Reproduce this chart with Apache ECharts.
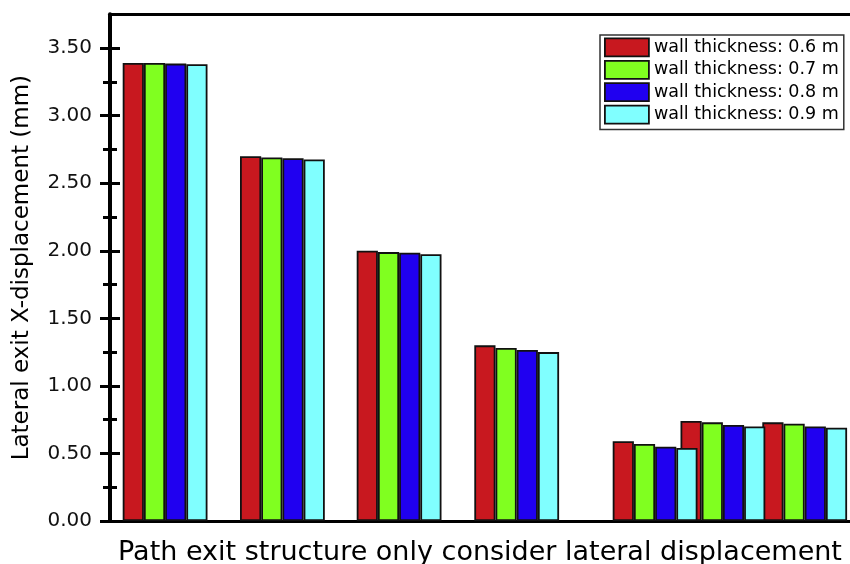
<!DOCTYPE html>
<html><head><meta charset="utf-8">
<script src="https://cdn.jsdelivr.net/npm/echarts@6/dist/echarts.min.js"></script>
<style>html,body{margin:0;padding:0;background:#fff}#c{width:850px;height:564px}</style>
</head><body><div id="c"></div>
<script>
// ---- data ----
const cases = ['Case 1', 'Case 2', 'Case 3', 'Case 4', 'Case 5', 'Case 6', 'Case 7'];
const seriesNames = ['wall thickness: 0.6 m', 'wall thickness: 0.7 m', 'wall thickness: 0.8 m', 'wall thickness: 0.9 m'];
const t06 = [3.39, 2.70, 2.00, 1.30, 0.59, 0.74, 0.73];
const t07 = [3.39, 2.69, 1.99, 1.28, 0.57, 0.73, 0.72];
const t08 = [3.385, 2.685, 1.985, 1.265, 0.55, 0.71, 0.70];
const t09 = [3.38, 2.675, 1.975, 1.25, 0.54, 0.70, 0.69];
const yTicks = [0, 0.5, 1.0, 1.5, 2.0, 2.5, 3.0, 3.5];
const yMinorTicks = [0.25, 0.75, 1.25, 1.75, 2.25, 2.75, 3.25];
const xTitle = 'Path exit structure only consider lateral displacement';
const yTitle = 'Lateral exit X-displacement (mm)';

// ---- layout (axis units along the hidden x axis) ----
const groupStart = [12.7, 130, 246.7, 364.3, 502.7, 570.5, 652.3];
const slot = 21.2;
const plotLeft = 110;
const plotWidth = 740;
const majorTickLen = 10;
const minorTickLen = 7;
const colors = ['#c8181f', '#80ff20', '#2000f0', '#80ffff'];
const FONT = 'DejaVu Sans';

const values = [t06, t07, t08, t09];
const series = values.map((vals, s) => ({
  name: seriesNames[s],
  type: 'bar',
  barWidth: slot,
  barGap: '-100%',
  xAxisIndex: 0,
  yAxisIndex: 0,
  itemStyle: { color: colors[s], borderColor: '#111', borderWidth: 1.8 },
  data: vals.map((v, g) => [groupStart[g] + s * slot + slot / 2, v])
}));

// inward-pointing ticks on the left axis, as short line segments in axis units
const tickSegs = yTicks.map(v => [[0, v], [majorTickLen, v]])
  .concat(yMinorTicks.map(v => [[0, v], [minorTickLen, v]]));
series.push({
  name: 'inner-ticks',
  type: 'lines',
  coordinateSystem: 'cartesian2d',
  xAxisIndex: 0,
  yAxisIndex: 0,
  silent: true,
  z: 6,
  lineStyle: { color: '#000', width: 3, opacity: 1, curveness: 0 },
  data: tickSegs.map(c => ({ coords: c }))
});

function yAx(extra) {
  return Object.assign({
    type: 'value', min: 0, max: 3.75, interval: 0.25, position: 'left', gridIndex: 0,
    axisLine: { show: false, onZero: false },
    axisLabel: { show: false },
    splitLine: { show: false },
    axisTick: { show: false }
  }, extra);
}

const option = {
  animation: false,
  backgroundColor: '#fff',
  grid: { left: plotLeft, right: 0, top: 14.3, bottom: 43, containLabel: false, outerBoundsMode: 'none' },
  legend: {
    data: seriesNames,
    orient: 'vertical',
    left: 600, top: 35,
    padding: [2.5, 5, 5, 4],
    itemWidth: 44, itemHeight: 18, itemGap: 2.6,
    icon: 'rect',
    borderColor: '#333', borderWidth: 1.5,
    backgroundColor: '#fff',
    itemStyle: { borderColor: '#111', borderWidth: 1.8 },
    textStyle: { fontSize: 17.5, fontFamily: FONT, color: '#000', lineHeight: 18 }
  },
  xAxis: [
    {
      type: 'value', min: 0, max: plotWidth, position: 'bottom',
      axisLine: { show: true, onZero: false, lineStyle: { color: '#000', width: 3 } },
      axisTick: { show: false }, axisLabel: { show: false }, splitLine: { show: false },
      name: xTitle, nameLocation: 'middle', nameGap: 18,
      nameTextStyle: { fontSize: 27, fontFamily: FONT, color: '#000' }
    },
    {
      type: 'value', min: 0, max: plotWidth, position: 'top',
      axisLine: { show: true, onZero: false, lineStyle: { color: '#000', width: 3 } },
      axisTick: { show: false }, axisLabel: { show: false }, splitLine: { show: false }
    }
  ],
  yAxis: [
    yAx({
      axisLine: { show: true, onZero: false, lineStyle: { color: '#000', width: 4 } },
      axisTick: { show: true, inside: false, length: majorTickLen, customValues: yTicks, lineStyle: { color: '#000', width: 3 } },
      axisLabel: { show: true, customValues: yTicks, margin: 18, fontSize: 20, fontFamily: FONT, color: '#111',
        formatter: v => Number(v).toFixed(2) },
      name: yTitle, nameLocation: 'middle', nameGap: 76,
      nameTextStyle: { fontSize: 23, fontFamily: FONT, color: '#000' }
    }),
    yAx({ axisTick: { show: true, inside: false, length: minorTickLen, customValues: yMinorTicks, lineStyle: { color: '#000', width: 3 } } })
  ],
  series: series
};

const chart = echarts.init(document.getElementById('c'), null, { renderer: 'canvas' });
chart.setOption(option);
</script>
</body></html>
